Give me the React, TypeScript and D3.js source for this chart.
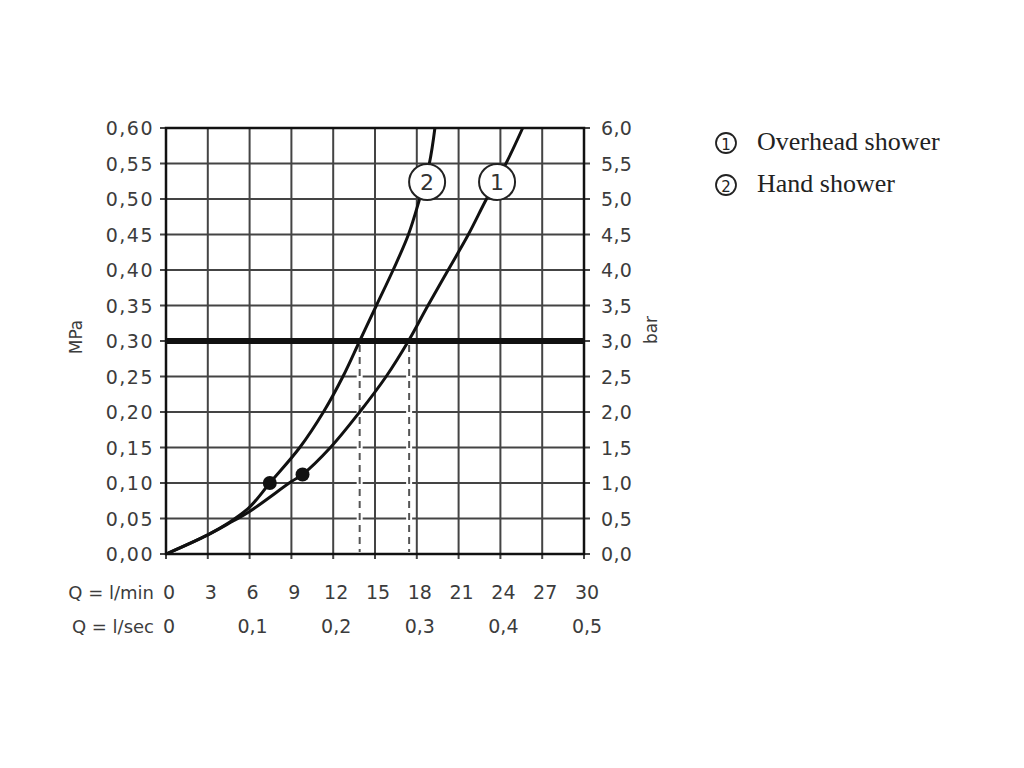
import React from "react";
import * as d3 from "d3";

const flowTicks = [0, 3, 6, 9, 12, 15, 18, 21, 24, 27, 30];
const pressureTicks = [0, 0.05, 0.1, 0.15, 0.2, 0.25, 0.3, 0.35, 0.4, 0.45, 0.5, 0.55, 0.6];
const secTicks = [0, 0.1, 0.2, 0.3, 0.4, 0.5];

const overheadQ = [0, 3, 4.5, 6, 9, 9.8, 11.8, 13.9, 15.8, 17.4, 18.8, 20.25, 21.7, 23.0, 24.4, 25.6];
const overheadP = [0, 0.027, 0.043, 0.06, 0.102, 0.112, 0.15, 0.2, 0.25, 0.3, 0.35, 0.4, 0.45, 0.5, 0.55, 0.6];
const handQ = [0, 3, 4.5, 6, 7.45, 9.6, 11.3, 12.7, 13.9, 15.1, 16.3, 17.4, 18.2, 18.9, 19.3];
const handP = [0, 0.027, 0.044, 0.066, 0.1, 0.15, 0.2, 0.25, 0.3, 0.35, 0.4, 0.45, 0.5, 0.55, 0.6];

const markerQ = [9.8, 7.45];
const markerP = [0.112, 0.1];
const labelIds = ["1", "2"];
const labelQ = [23.76, 18.74];
const labelP = [0.524, 0.524];
const refPressure = 0.3;
const refFlows = [13.9, 17.45];
const legendNames = ["Overhead shower", "Hand shower"];

const x = d3.scaleLinear().domain([0, 30]).range([166, 584]);
const y = d3.scaleLinear().domain([0, 0.6]).range([554, 128]);

const fmt2 = (v: number) => v.toFixed(2).replace(".", ",");
const fmt1 = (v: number) => v.toFixed(1).replace(".", ",");

export default function App() {
  const line = d3
    .line<[number, number]>()
    .x((d) => x(d[0]))
    .y((d) => y(d[1]))
    .curve(d3.curveCatmullRom.alpha(0.5));
  const overhead = line(overheadQ.map((q, i) => [q, overheadP[i]]) as [number, number][]);
  const hand = line(handQ.map((q, i) => [q, handP[i]]) as [number, number][]);
  const tickFont = "DejaVu Sans, Verdana, sans-serif";
  const grey = "#3c3c3c";
  return (
    <svg width={1024} height={768} style={{ position: "absolute", left: 0, top: 0, background: "#fff" }}>
      <rect x={0} y={0} width={1024} height={768} fill="#fff" />
      {/* grid */}
      {flowTicks.map((t) => (
        <line key={"vx" + t} x1={x(t)} x2={x(t)} y1={y(0.6)} y2={y(0) + 5} stroke="#444" strokeWidth={2} />
      ))}
      {pressureTicks.map((t) => (
        <line key={"hy" + t} x1={x(0) - 6} x2={x(30) + 6} y1={y(t)} y2={y(t)} stroke="#444" strokeWidth={2} />
      ))}
      <rect x={x(0)} y={y(0.6)} width={x(30) - x(0)} height={y(0) - y(0.6)} fill="none" stroke="#111" strokeWidth={2.5} />
      {/* dashed reference lines */}
      {refFlows.map((q) => (
        <g key={"ref" + q}>
          <line x1={x(q)} x2={x(q)} y1={y(refPressure)} y2={y(0) - 2} stroke="#fff" strokeWidth={6} />
          <line x1={x(q)} x2={x(q)} y1={y(refPressure) + 4} y2={y(0) - 2} stroke="#555" strokeWidth={2} strokeDasharray="7,5" />
        </g>
      ))}
      <line x1={x(0)} x2={x(30)} y1={y(refPressure)} y2={y(refPressure)} stroke="#111" strokeWidth={6} />
      {/* curves */}
      <path d={overhead || ""} fill="none" stroke="#111" strokeWidth={3} />
      <path d={hand || ""} fill="none" stroke="#111" strokeWidth={3} />
      {markerQ.map((q, i) => (
        <circle key={"m" + i} cx={x(q)} cy={y(markerP[i])} r={7} fill="#111" />
      ))}
      {labelIds.map((id, i) => (
        <g key={"l" + id}>
          <circle cx={x(labelQ[i])} cy={y(labelP[i])} r={18} fill="#fff" stroke="#222" strokeWidth={2} />
          <text x={x(labelQ[i])} y={y(labelP[i]) + 8} textAnchor="middle" fontFamily={tickFont} fontSize={22} fill="#333">
            {id}
          </text>
        </g>
      ))}
      {/* left axis labels */}
      {pressureTicks.map((t) => (
        <text key={"ly" + t} x={154} y={y(t) + 7} textAnchor="end" fontFamily={tickFont} fontSize={19} letterSpacing={1.5} fill={grey}>
          {fmt2(t)}
        </text>
      ))}
      {pressureTicks.map((t) => (
        <text key={"ry" + t} x={601} y={y(t) + 7} textAnchor="start" fontFamily={tickFont} fontSize={19} letterSpacing={0.3} fill={grey}>
          {fmt1(t * 10)}
        </text>
      ))}
      <text transform="translate(82,337) rotate(-90)" textAnchor="middle" fontFamily={tickFont} fontSize={17} fill={grey}>
        MPa
      </text>
      <text transform="translate(657,330) rotate(-90)" textAnchor="middle" fontFamily={tickFont} fontSize={17} fill={grey}>
        bar
      </text>
      {/* bottom labels */}
      <text x={154} y={599} textAnchor="end" fontFamily={tickFont} fontSize={18} fill={grey}>
        Q = l/min
      </text>
      {flowTicks.map((t) => (
        <text key={"bx" + t} x={x(t) + 3} y={599} textAnchor="middle" fontFamily={tickFont} fontSize={19} fill={grey}>
          {t}
        </text>
      ))}
      <text x={154} y={633} textAnchor="end" fontFamily={tickFont} fontSize={18} fill={grey}>
        Q = l/sec
      </text>
      {secTicks.map((t) => (
        <text key={"bs" + t} x={x(t * 60) + 3} y={633} textAnchor="middle" fontFamily={tickFont} fontSize={19} fill={grey}>
          {t === 0 ? "0" : fmt1(t)}
        </text>
      ))}
      {/* legend */}
      {legendNames.map((name, i) => (
        <g key={"lg" + i}>
          <circle cx={726} cy={143} r={10} transform={`translate(0,${i * 42})`} fill="none" stroke="#222" strokeWidth={1.8} />
          <text x={726} y={149.5 + i * 42} textAnchor="middle" fontFamily={tickFont} fontSize={15} fill="#222">
            {labelIds[i]}
          </text>
          <text x={757} y={149.5 + i * 42} fontFamily="Liberation Serif, Times New Roman, serif" fontSize={26} fill="#222">
            {name}
          </text>
        </g>
      ))}
    </svg>
  );
}
